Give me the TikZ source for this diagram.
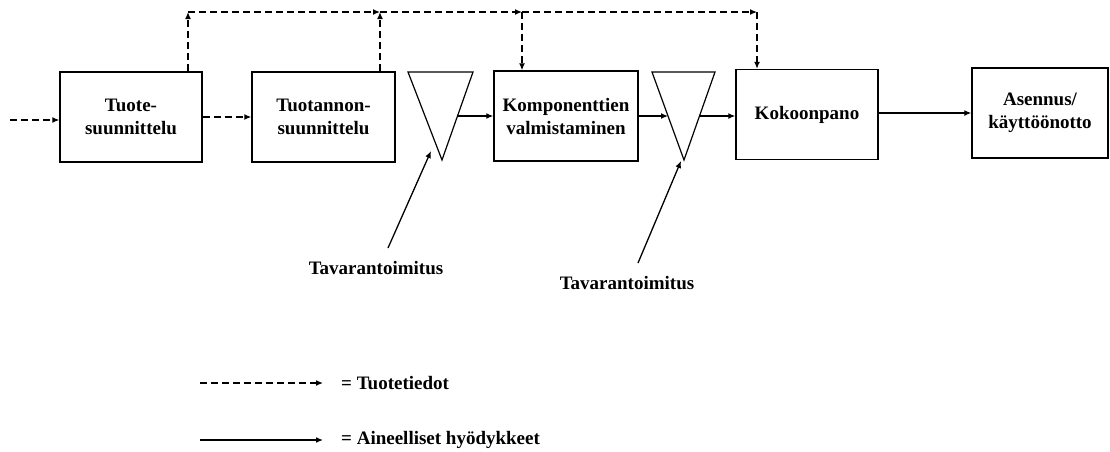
\documentclass[tikz,border=0pt]{standalone}
\usepackage{fontspec}
\setmainfont{Liberation Serif}
\usetikzlibrary{arrows.meta,calc}
\begin{document}
\begin{tikzpicture}[x=1pt,y=-1pt,
  every node/.style={font=\fontsize{19}{23}\selectfont\bfseries},
  stage/.style={draw,line width=1.4pt,minimum height=90pt,align=center,inner sep=0pt},
  flow/.style={line width=1.3pt,-{Latex[length=7pt,width=6pt]}},
  info/.style={flow,dash pattern=on 7pt off 4pt},
  tri/.style={line width=1.2pt,line join=miter}]
\useasboundingbox (0,0) rectangle (1110,451);

% process stages
\node[stage,minimum width=142pt] (b1) at (131,117) {Tuote-\\suunnittelu};
\node[stage,minimum width=143pt] (b2) at (323.5,117) {Tuotannon-\\suunnittelu};
\node[stage,minimum width=144pt] (b3) at (566,116) {Komponenttien\\valmistaminen};
\node[stage,minimum width=142pt] (b4) at (807,114.5) {Kokoonpano};
\node[stage,minimum width=136pt] (b5) at (1040,113) {Asennus/\\käyttöönotto};

% storage triangles
\coordinate (t1a) at (408,72);
\coordinate (t1b) at (473,72);
\coordinate (t1c) at (442,160);
\coordinate (t2a) at (652,72);
\coordinate (t2b) at (715,72);
\coordinate (t2c) at (684,160);
\draw[tri] (t1a) -- (t1b) -- (t1c) -- cycle;
\draw[tri] (t2a) -- (t2b) -- (t2c) -- cycle;
\coordinate (t1r) at ($(t1b)!0.5!(t1c)$);
\coordinate (t2l) at ($(t2a)!0.5!(t2c)$);
\coordinate (t2r) at ($(t2b)!0.5!(t2c)$);

% material flow
\draw[flow] (t1r) -- (t1r -| b3.west);
\draw[flow] (b3.east |- t2l) -- (t2l);
\draw[flow] (t2r) -- (t2r -| b4.west);
\draw[flow] (b4.east |- 0,113) -- (b5.west |- 0,113);

% information flow
\coordinate (in) at (10,120);
\draw[info] (in) -- (in -| b1.west);
\draw[info] (b1.east) -- (b2.west);
\coordinate (c1) at (188,12);
\coordinate (c2) at (380,12);
\coordinate (c3) at (522,12);
\coordinate (c4) at (757,12);
\draw[info] (c1 |- b1.north) -- (c1);
\draw[info] (c1) -- (c2);
\draw[info] (c2 |- b2.north) -- (c2);
\draw[info] (c2) -- (c3);
\draw[info] (c3) -- (c4);
\draw[info] (c3) -- (c3 |- b3.north);
\draw[info] (c4) -- (c4 |- b4.north);

% deliveries
\node (d1) at (376,268) {Tavarantoimitus};
\node (d2) at (627,283) {Tavarantoimitus};
\coordinate (d1s) at (388,248);
\coordinate (d1e) at (431,151);
\coordinate (d2s) at (638,263);
\coordinate (d2e) at (681,161);
\draw[flow] (d1s) -- (d1e);
\draw[flow] (d2s) -- (d2e);

% legend
\coordinate (l1a) at (200,383);
\coordinate (l1b) at (323,383);
\coordinate (l2a) at (200,440);
\coordinate (l2b) at (323,440);
\draw[info] (l1a) -- (l1b);
\draw[flow] (l2a) -- (l2b);
\node[anchor=west,inner sep=0pt] (k1) at (341,383) {= Tuotetiedot};
\node[anchor=west,inner sep=0pt] (k2) at (341,440) {= Aineelliset hyödykkeet};
\end{tikzpicture}
\end{document}
